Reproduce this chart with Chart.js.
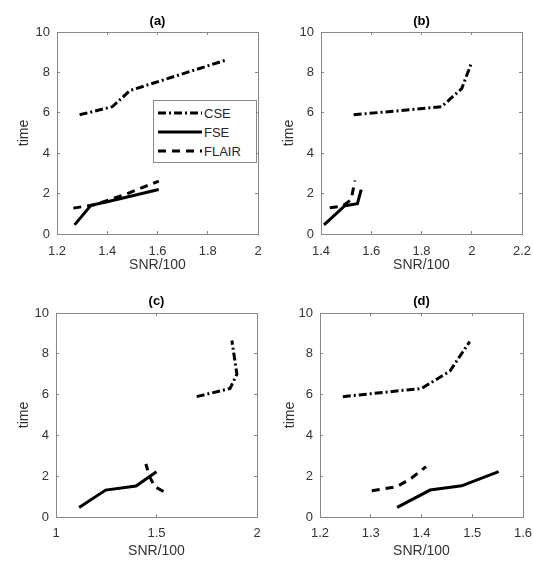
<!DOCTYPE html>
<html>
<head>
<meta charset="utf-8">
<script src="https://cdn.jsdelivr.net/npm/chart.js@4.4.1/dist/chart.umd.min.js"></script>
<style>
html, body { margin: 0; padding: 0; background: #fff; }
#wrap { position: relative; width: 534px; height: 565px; overflow: hidden; font-family: "Liberation Sans", Arial, sans-serif; }
#wrap canvas { position: absolute; }
#legend { position: absolute; left: 153px; top: 100px; width: 104px; height: 63px; box-sizing: border-box; border: 1px solid #888; background: #fff; }
#legend .item { position: absolute; left: 4px; height: 18px; display: flex; align-items: center; font-size: 13px; color: #262626; }
#legend svg { margin-right: 2px; }
</style>
</head>
<body>
<div id="wrap">
  <canvas id="pa" width="267" height="282" style="left:0;top:0"></canvas>
  <canvas id="pb" width="267" height="282" style="left:267px;top:0"></canvas>
  <canvas id="pc" width="267" height="283" style="left:0;top:282px"></canvas>
  <canvas id="pd" width="267" height="283" style="left:267px;top:282px"></canvas>
  <div id="legend">
    <div class="item" style="top:3px"><svg width="44" height="6"><line x1="0" y1="3" x2="44" y2="3" stroke="#000" stroke-width="3" stroke-dasharray="8 3 2 3"/></svg>CSE</div>
    <div class="item" style="top:22px"><svg width="44" height="6"><line x1="0" y1="3" x2="44" y2="3" stroke="#000" stroke-width="3"/></svg>FSE</div>
    <div class="item" style="top:41px"><svg width="44" height="6"><line x1="0" y1="3" x2="44" y2="3" stroke="#000" stroke-width="3" stroke-dasharray="8 6"/></svg>FLAIR</div>
  </div>
</div>
<script>
// 축 눈금
const yTicks = [0, 2, 4, 6, 8, 10];
const xTicksA = [1.2, 1.4, 1.6, 1.8, 2];
const xTicksB = [1.4, 1.6, 1.8, 2, 2.2];
const xTicksC = [1, 1.5, 2];
const xTicksD = [1.2, 1.3, 1.4, 1.5, 1.6];

// (a)
const cseSnrA = [1.29, 1.42, 1.49, 1.87];
const cseTimeA = [5.9, 6.3, 7.1, 8.6];
const fseSnrA = [1.27, 1.335, 1.40, 1.605];
const fseTimeA = [0.45, 1.42, 1.6, 2.2];
const flairSnrA = [1.265, 1.35, 1.48, 1.605];
const flairTimeA = [1.28, 1.45, 2.0, 2.62];

// (b)
const cseSnrB = [1.53, 1.88, 1.96, 2.0];
const cseTimeB = [5.9, 6.3, 7.2, 8.5];
const fseSnrB = [1.412, 1.495, 1.545, 1.56];
const fseTimeB = [0.45, 1.4, 1.5, 2.2];
const flairSnrB = [1.435, 1.485, 1.52, 1.535];
const flairTimeB = [1.3, 1.38, 1.7, 2.65];

// (c)
const cseSnrC = [1.70, 1.866, 1.90, 1.875];
const cseTimeC = [5.9, 6.3, 7.0, 8.65];
const fseSnrC = [1.115, 1.247, 1.398, 1.50];
const fseTimeC = [0.47, 1.32, 1.52, 2.22];
const flairSnrC = [1.535, 1.49, 1.465, 1.447];
const flairTimeC = [1.25, 1.5, 2.0, 2.6];

// (d)
const cseSnrD = [1.245, 1.40, 1.456, 1.495];
const cseTimeD = [5.9, 6.3, 7.15, 8.6];
const fseSnrD = [1.352, 1.417, 1.479, 1.552];
const fseTimeD = [0.47, 1.32, 1.53, 2.22];
const flairSnrD = [1.302, 1.351, 1.38, 1.409];
const flairTimeD = [1.29, 1.48, 1.9, 2.47];

// 선 스타일
const lineStyles = {
    CSE: [8, 3, 2, 3],
    FSE: [],
    FLAIR: [8, 6]
};

const FONT = "'Liberation Sans', Arial, sans-serif";
const LABEL_COLOR = '#333';
const AXIS_COLOR = '#888';

function toPoints(xs, ys) {
    return xs.map((x, i) => ({ x: x, y: ys[i] }));
}

function setTicks(list) {
    return scale => { scale.ticks = list.map(v => ({ value: v })); };
}

// 축 크기 고정 (라벨 여백이 차트 영역을 줄이지 않게)
function fixSize(prop, size) {
    return scale => {
        scale[prop] = size;
        scale.paddingLeft = 0;
        scale.paddingRight = 0;
        scale.paddingTop = 0;
        scale.paddingBottom = 0;
    };
}

// 패널 그리기
function makePanel(id, title, xTicks, series, box) {
    const canvas = document.getElementById(id);
    const W = canvas.width, H = canvas.height;
    const xMin = xTicks[0], xMax = xTicks[xTicks.length - 1];

    const gridOpts = { display: true, drawOnChartArea: false, drawTicks: true, tickLength: -3, color: AXIS_COLOR, lineWidth: 1 };
    const borderOpts = { display: true, color: AXIS_COLOR, width: 1 };
    const tickFont = { family: FONT, size: 13 };

    new Chart(canvas, {
        type: 'scatter',
        data: {
            datasets: series.map(s => ({
                label: s.label,
                data: toPoints(s.x, s.y),
                showLine: true,
                borderColor: '#000',
                backgroundColor: '#000',
                borderWidth: 3,
                borderDash: lineStyles[s.label],
                borderCapStyle: 'butt',
                pointRadius: 0,
                tension: 0,
                fill: false
            }))
        },
        options: {
            responsive: false,
            animation: false,
            devicePixelRatio: 1,
            events: [],
            layout: { padding: 0 },
            plugins: { legend: { display: false }, tooltip: { enabled: false } },
            scales: {
                x: {
                    type: 'linear', position: 'bottom', min: xMin, max: xMax,
                    afterBuildTicks: setTicks(xTicks),
                    afterFit: fixSize('height', H - box.bottom),
                    grid: gridOpts, border: borderOpts,
                    ticks: { font: tickFont, color: LABEL_COLOR, padding: box.xTickPad, maxRotation: 0, callback: v => String(v) },
                    title: { display: true, text: 'SNR/100', color: LABEL_COLOR, font: { family: FONT, size: 14 }, padding: { top: 0, bottom: box.xTitlePad } }
                },
                x2: {
                    type: 'linear', position: 'top', min: xMin, max: xMax,
                    afterBuildTicks: setTicks(xTicks),
                    afterFit: fixSize('height', box.top),
                    grid: gridOpts, border: borderOpts,
                    ticks: { display: false },
                    title: { display: true, text: title, color: '#000', font: { family: FONT, size: 13, weight: 'bold' }, padding: { top: box.titlePad, bottom: 0 } }
                },
                y: {
                    type: 'linear', position: 'left', min: 0, max: 10,
                    afterBuildTicks: setTicks(yTicks),
                    afterFit: fixSize('width', box.left),
                    grid: gridOpts, border: borderOpts,
                    ticks: { font: tickFont, color: LABEL_COLOR, padding: 10, callback: v => String(v) },
                    title: { display: true, text: 'time', color: LABEL_COLOR, font: { family: FONT, size: 14 }, padding: { top: box.yTitlePad, bottom: 0 } }
                },
                y2: {
                    type: 'linear', position: 'right', min: 0, max: 10,
                    afterBuildTicks: setTicks(yTicks),
                    afterFit: fixSize('width', W - box.right),
                    grid: gridOpts, border: borderOpts,
                    ticks: { display: false }
                }
            }
        }
    });
}

makePanel('pa', '(a)', xTicksA, [
    { label: 'CSE', x: cseSnrA, y: cseTimeA },
    { label: 'FSE', x: fseSnrA, y: fseTimeA },
    { label: 'FLAIR', x: flairSnrA, y: flairTimeA }
], { left: 57, top: 32, right: 258, bottom: 234, titlePad: 14, xTickPad: 13, xTitlePad: 8, yTitlePad: 16 });

makePanel('pb', '(b)', xTicksB, [
    { label: 'CSE', x: cseSnrB, y: cseTimeB },
    { label: 'FSE', x: fseSnrB, y: fseTimeB },
    { label: 'FLAIR', x: flairSnrB, y: flairTimeB }
], { left: 54, top: 32, right: 255, bottom: 234, titlePad: 14, xTickPad: 13, xTitlePad: 8, yTitlePad: 14 });

makePanel('pc', '(c)', xTicksC, [
    { label: 'CSE', x: cseSnrC, y: cseTimeC },
    { label: 'FSE', x: fseSnrC, y: fseTimeC },
    { label: 'FLAIR', x: flairSnrC, y: flairTimeC }
], { left: 56, top: 31, right: 257, bottom: 235, titlePad: 12, xTickPad: 12, xTitlePad: 5, yTitlePad: 16 });

makePanel('pd', '(d)', xTicksD, [
    { label: 'CSE', x: cseSnrD, y: cseTimeD },
    { label: 'FSE', x: fseSnrD, y: fseTimeD },
    { label: 'FLAIR', x: flairSnrD, y: flairTimeD }
], { left: 53, top: 31, right: 256, bottom: 235, titlePad: 12, xTickPad: 12, xTitlePad: 5, yTitlePad: 14.5 });
</script>
</body>
</html>
